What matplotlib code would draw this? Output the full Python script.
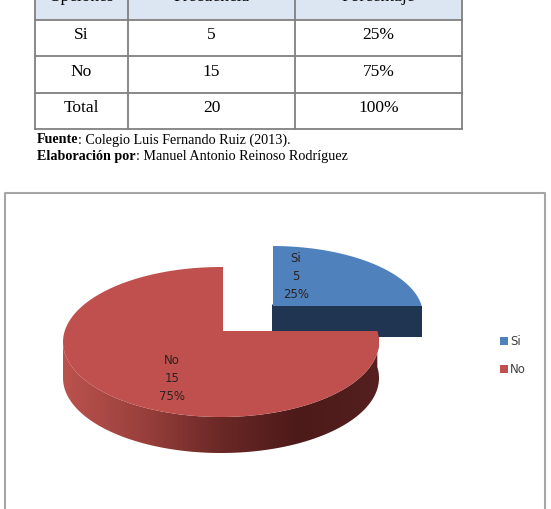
import numpy as np
import matplotlib.pyplot as plt
from matplotlib.patches import Polygon, Rectangle
from matplotlib.colors import LinearSegmentedColormap

# table data
opciones = ['Si', 'No', 'Total']
frecuencia = [5, 15, 20]
porcentaje = ['25%', '75%', '100%']
headers = ['Opciones', 'Frecuencia', 'Porcentaje']

# pie data
labels = ['Si', 'No']
values = [5, 15]
top_colors = ['#4f81bd', '#c0504d']

fig = plt.figure(figsize=(5.51, 5.10), dpi=100)
ax = fig.add_axes([0, 0, 1, 1])
ax.set_xlim(0, 551)
ax.set_ylim(510, 0)
ax.axis('off')

# ---- table ----
col_x = [35, 128, 295, 462]
row_y = [-16, 21, 57, 94, 130]
tfont = dict(family='Liberation Serif', fontsize=12.5, color='black')
ax.add_patch(Rectangle((col_x[0], row_y[0]), col_x[-1] - col_x[0], row_y[1] - row_y[0],
                       facecolor='#dce6f2', edgecolor='none'))
for y in row_y:
    ax.plot([col_x[0], col_x[-1]], [y, y], color='#808080', lw=1.3)
for x in col_x:
    ax.plot([x, x], [row_y[0], row_y[-1]], color='#808080', lw=1.3)
for j, h in enumerate(headers):
    ax.text((col_x[j] + col_x[j + 1]) / 2, -3, h, ha='center', va='center', **tfont)
for i in range(3):
    cells = [opciones[i], str(frecuencia[i]), porcentaje[i]]
    yc = (row_y[i + 1] + row_y[i + 2]) / 2 - 4
    for j, c in enumerate(cells):
        ax.text((col_x[j] + col_x[j + 1]) / 2, yc, c, ha='center', va='center', **tfont)

# source lines: bold part + normal part
fig.canvas.draw()
renderer = fig.canvas.get_renderer()
for yy, bold, rest in [(140, 'Fuente', ': Colegio Luis Fernando Ruiz (2013).'),
                       (157, 'Elaboración por', ': Manuel Antonio Reinoso Rodríguez')]:
    t = ax.text(37, yy, bold, ha='left', va='center', family='Liberation Serif',
                fontsize=10.2, fontweight='bold')
    bb = t.get_window_extent(renderer)
    x_end = ax.transData.inverted().transform((bb.x1, bb.y0))[0]
    ax.text(x_end, yy, rest, ha='left', va='center', family='Liberation Serif', fontsize=10.2)

# ---- chart frame ----
ax.plot([5, 5, 545, 545], [515, 194, 194, 515], color='#a6a6a6', lw=1.5)


def arc(cx, cy, a, b, t0, t1, n=200):
    t = np.radians(np.linspace(t0, t1, n))
    return np.column_stack([cx + a * np.cos(t), cy - b * np.sin(t)])


def ray_angles(g):
    # angles where the upward and rightward rays from the apex meet the rim
    up = np.degrees(np.arccos((g['vx'] - g['cx']) / g['a']))
    right = np.degrees(np.arcsin((g['cy'] - g['vy']) / g['b']))
    return right, up


total = sum(values)

# slice geometry (apex + rim ellipse, a light perspective look)
geo = [dict(vx=273, vy=307, cx=272, cy=316, a=151, b=69, d=31),   # Si (pulled out)
       dict(vx=223, vy=332, cx=221, cy=343, a=158, b=75, d=36)]   # No

# Si slice: quarter from the top, clockwise to the right
g = geo[0]
r_ang, u_ang = ray_angles(g)
rx = g['cx'] + g['a'] * np.cos(np.radians(r_ang))
ax.add_patch(Polygon([[g['vx'], g['vy']], [rx, g['vy']],
                      [rx, g['vy'] + g['d']], [g['vx'], g['vy'] + g['d']]],
                     closed=True, facecolor='#1f3552', edgecolor='none'))
ax.add_patch(Polygon([[g['vx'] - 1.5, g['vy'] - 2], [g['vx'] - 1.5, g['vy'] + g['d']],
                      [g['vx'] + 1, g['vy'] + g['d']], [g['vx'] + 1, g['vy']]],
                     closed=True, facecolor='#1f3552', edgecolor='none'))
top = np.vstack([[g['vx'], g['vy']], arc(g['cx'], g['cy'], g['a'], g['b'], r_ang, u_ang)])
ax.add_patch(Polygon(top, closed=True, facecolor=top_colors[0], edgecolor='none'))

# No slice: the rest, from the right going round the front to the top
g = geo[1]
r_ang, u_ang = ray_angles(g)
front = arc(g['cx'], g['cy'], g['a'], g['b'], -180, r_ang)
side = np.vstack([front, front[::-1] + [0, g['d']]])
side_patch = Polygon(side, closed=True, facecolor='none', edgecolor='none')
ax.add_patch(side_patch)
cmap = LinearSegmentedColormap.from_list('side', ['#bb524e', '#9a403c', '#6a2826', '#4c1a19', '#55201f'])
grad = np.linspace(0, 1, 256).reshape(1, -1)
im = ax.imshow(grad, cmap=cmap, aspect='auto',
               extent=[g['cx'] - g['a'], g['cx'] + g['a'], g['cy'] + g['b'] + g['d'], g['vy'] - 5])
im.set_clip_path(side_patch)
top = np.vstack([[g['vx'], g['vy']], arc(g['cx'], g['cy'], g['a'], g['b'], u_ang, 360 + r_ang, 400)])
ax.add_patch(Polygon(top, closed=True, facecolor=top_colors[1], edgecolor='none'))
ax.set_xlim(0, 551)
ax.set_ylim(510, 0)

# data labels
label_pos = [(296, 277), (172, 379)]
for lab, v, (lx, ly) in zip(labels, values, label_pos):
    ax.text(lx, ly, f'{lab}\n{v}\n{round(100 * v / total)}%', ha='center', va='center',
            family='DejaVu Sans', fontsize=8.5, color='#2b2222', linespacing=1.5)

# legend
for i, lab in enumerate(labels):
    yy = 342 + 28 * i
    ax.add_patch(Rectangle((500, yy - 4), 8, 8, facecolor=top_colors[i], edgecolor='none'))
    ax.text(510, yy, lab, ha='left', va='center', family='DejaVu Sans', fontsize=8.5, color='#404040')

fig.savefig('out.png', dpi=100)
